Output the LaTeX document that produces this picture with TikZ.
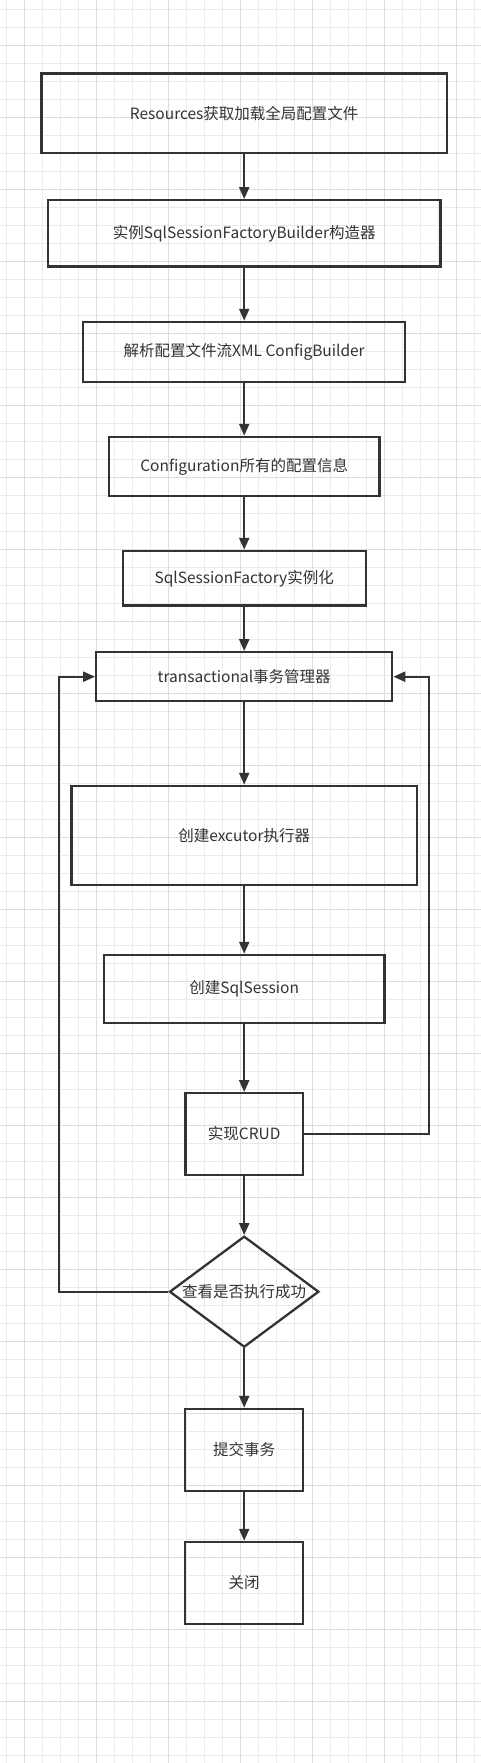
\documentclass[tikz,border=0pt]{standalone}
\usepackage{fontspec}
\newfontfamily\cjkfont{Noto Sans CJK SC}
\usetikzlibrary{positioning}
\usetikzlibrary{shapes.geometric}
\usetikzlibrary{arrows.meta}
\definecolor{ink}{HTML}{333333}
\definecolor{gridminor}{HTML}{EBEBEB}
\definecolor{gridmajor}{HTML}{DDDDDD}
\tikzset{
  stepbox/.style={draw=ink, line width=2.3pt, rectangle, text=ink,
    inner sep=0pt, font=\cjkfont\fontsize{15.5}{18}\selectfont},
  flow/.style={draw=ink, line width=2.3pt, -{Triangle[length=12pt,width=10pt]}},
}
\begin{document}
\begin{tikzpicture}[x=1pt, y=-1pt]
\useasboundingbox (0,0) rectangle (481,1763);
\fill[white] (0,0) rectangle (481,1763);
\foreach \gx in {0,...,26}
  \draw[gridminor, line width=0.8pt] (6.7+18*\gx,0) -- ++(0,1763);
\foreach \gy in {0,...,97}
  \draw[gridminor, line width=0.8pt] (0,9+18*\gy) -- ++(481,0);
\foreach \gx in {0,...,6}
  \draw[gridmajor, line width=0.8pt] (24.7+72*\gx,0) -- ++(0,1763);
\foreach \gy in {0,...,23}
  \draw[gridmajor, line width=0.8pt] (0,45+72*\gy) -- ++(481,0);

\node[stepbox,
  minimum width=405.7pt, minimum height=79.4pt] (res) at (244.2,113.2) {Resources获取加载全局配置文件};
\node[stepbox,
  minimum width=392.7pt, minimum height=66.4pt,
  below=45pt of res] (builder) {实例SqlSessionFactoryBuilder构造器};
\node[stepbox,
  minimum width=322pt, minimum height=60pt,
  below=53pt of builder] (xml) {解析配置文件流XML ConfigBuilder};
\node[stepbox,
  minimum width=270.7pt, minimum height=59pt,
  below=52.7pt of xml] (config) {Configuration所有的配置信息};
\node[stepbox,
  minimum width=243pt, minimum height=54.7pt,
  below=52.7pt of config] (factory) {SqlSessionFactory实例化};
\node[stepbox,
  minimum width=296pt, minimum height=49pt,
  below=44.3pt of factory] (trans) {transactional事务管理器};
\node[stepbox,
  minimum width=345.7pt, minimum height=99pt,
  below=82.4pt of trans] (executor) {创建excutor执行器};
\node[stepbox,
  minimum width=280.7pt, minimum height=68.3pt,
  below=67.7pt of executor] (session) {创建SqlSession};
\node[stepbox,
  minimum width=117.7pt, minimum height=81.7pt,
  below=67.7pt of session] (crud) {实现CRUD};
\node[stepbox, diamond,
  minimum width=149.4pt, minimum height=111pt,
  below=59pt of crud] (check) {\makebox[0pt]{查看是否执行成功}};
\node[stepbox,
  minimum width=118pt, minimum height=82pt,
  below=59.4pt of check] (commit) {提交事务};
\node[stepbox,
  minimum width=118pt, minimum height=82pt,
  below=48.7pt of commit] (close) {关闭};

\draw[flow] (res) -- (builder);
\draw[flow] (builder) -- (xml);
\draw[flow] (xml) -- (config);
\draw[flow] (config) -- (factory);
\draw[flow] (factory) -- (trans);
\draw[flow] (trans) -- (executor);
\draw[flow] (executor) -- (session);
\draw[flow] (session) -- (crud);
\draw[flow] (crud) -- (check);
\draw[flow] (check) -- (commit);
\draw[flow] (commit) -- (close);
\draw[flow] (crud.east) -- ++(125,0) |- (trans.east);
\draw[flow] (check.west) -- ++(-109.6,0) |- (trans.west);
\end{tikzpicture}
\end{document}
